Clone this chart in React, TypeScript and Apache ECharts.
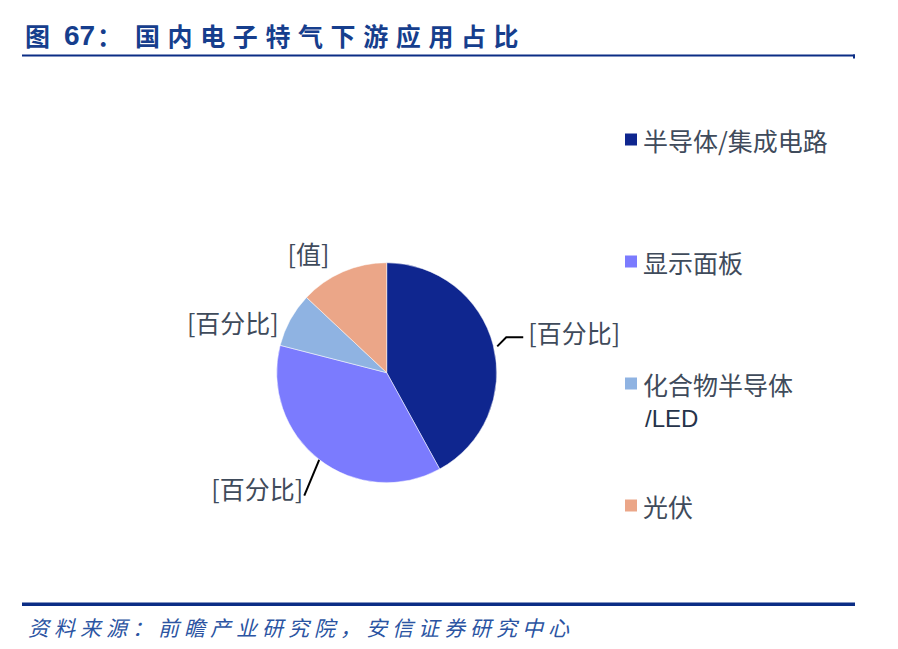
import React, { useEffect, useRef } from "react";
import * as echarts from "echarts";

const categories = ["半导体/集成电路", "显示面板", "化合物半导体/LED", "光伏"];
const values = [42, 37, 8, 13];
const labelTexts = ["[百分比]", "[百分比]", "[百分比]", "[值]"];
const colors = ["#0f268f", "#7b7bfe", "#8fb3e2", "#eba688"];
const legendTops = [122, 244, 366, 488];
const titleHead = "图";
const titleNum = "67";
const titleBody = "国内电子特气下游应用占比";
const sourceText = "资料来源：前瞻产业研究院，安信证券研究中心";

const CJK = '"Noto Sans CJK SC", "Noto Sans", sans-serif';
const TEXT_COLOR = "#3f4b5b";
const TITLE_COLOR = "#163e8d";
const LINE_COLOR = "#0b2d85";

export default function App() {
  const ref = useRef<HTMLDivElement>(null);
  useEffect(() => {
    if (!ref.current) return;
    const chart = echarts.init(ref.current, null, { renderer: "svg" });

    const graphics: any[] = [];
    // Title
    graphics.push({
      type: "text",
      x: 25,
      y: 35,
      style: { text: titleHead, font: `bold 25px ${CJK}`, fill: TITLE_COLOR, verticalAlign: "middle" },
    });
    graphics.push({
      type: "text",
      x: 64,
      y: 35,
      style: { text: titleNum, font: `bold 28px "Liberation Sans", Arial, sans-serif`, fill: TITLE_COLOR, verticalAlign: "middle" },
    });
    graphics.push({
      type: "text",
      x: 97,
      y: 35,
      style: { text: "：", font: `bold 25px ${CJK}`, fill: TITLE_COLOR, verticalAlign: "middle" },
    });
    titleBody.split("").forEach((c, i) => {
      graphics.push({
        type: "text",
        x: 135 + i * 32.6,
        y: 35,
        style: { text: c, font: `bold 25px ${CJK}`, fill: TITLE_COLOR, verticalAlign: "middle" },
      });
    });
    // Title underline
    graphics.push({ type: "rect", shape: { x: 22, y: 54.5, width: 833, height: 2 }, style: { fill: LINE_COLOR } });
    graphics.push({ type: "rect", shape: { x: 853, y: 54.5, width: 2, height: 4 }, style: { fill: LINE_COLOR } });
    // Bottom line
    graphics.push({ type: "rect", shape: { x: 22, y: 602.5, width: 833, height: 3.5 }, style: { fill: LINE_COLOR } });
    // Source
    sourceText.split("").forEach((c, i) => {
      graphics.push({
        type: "text",
        x: 28 + i * 26,
        y: 627,
        style: { text: c, font: `italic 21px ${CJK}`, fill: "#2b54a2", verticalAlign: "middle" },
      });
    });
    // second line of the third legend entry
    graphics.push({
      type: "text",
      x: 645,
      y: 418,
      style: { text: "/LED", font: `24px "Liberation Sans", Arial, sans-serif`, fill: "#26334a", verticalAlign: "middle" },
    });

    const option: any = {
      animation: false,
      backgroundColor: "#ffffff",
      color: colors,
      legend: categories.map((c, i) => ({
        data: [c],
        orient: "vertical",
        left: 618,
        top: legendTops[i],
        icon: "rect",
        itemWidth: 14,
        itemHeight: 14,
        selectedMode: false,
        formatter: (name: string) => (name === "化合物半导体/LED" ? "化合物半导体" : name),
        textStyle: { fontSize: 25, color: TEXT_COLOR, fontFamily: CJK },
      })),
      graphic: graphics,
      series: [
        {
          type: "pie",
          center: [386.7, 372.7],
          radius: 110,
          startAngle: 90,
          clockwise: true,
          avoidLabelOverlap: false,
          itemStyle: { borderColor: "#ffffff", borderWidth: 0.5 },
          label: {
            show: true,
            position: "outside",
            formatter: (p: any) => labelTexts[p.dataIndex],
            fontSize: 25,
            fontFamily: CJK,
            color: TEXT_COLOR,
            distanceToLabelLine: 4,
          },
          labelLine: {
            show: true,
            length: 15,
            length2: 12,
            smooth: false,
            lineStyle: { color: "#000000", width: 2 },
          },
          labelLayout: (p: any) => {
            const pts = p.labelLinePoints;
            if (!pts) return {};
            const a = pts[0];
            if (p.dataIndex === 0) {
              const a2 = [a[0] + 4, a[1] + 1];
              const b = [a2[0] + 9, a2[1] - 9];
              const c = [b[0] + 17, b[1]];
              return { x: c[0] + 5, y: c[1] - 5, align: "left", verticalAlign: "middle", labelLinePoints: [a2, b, c] };
            }
            if (p.dataIndex === 1) {
              const b = [a[0] - 15, a[1] + 36];
              return { x: b[0] - 1, y: b[1] - 8, align: "right", verticalAlign: "middle", labelLinePoints: [a, b, b] };
            }
            if (p.dataIndex === 2) return { dy: 4 };
            if (p.dataIndex === 3) return { dy: -6 };
            return {};
          },
          emphasis: { disabled: true },
          data: categories.map((name, i) => {
            const item: any = { name, value: values[i] };
            if (i === 2) item.labelLine = { show: false, length: 4, length2: 4 };
            if (i === 3) item.labelLine = { show: false, length: 14, length2: 4 };
            return item;
          }),
        },
      ],
    };
    chart.setOption(option);
    return () => chart.dispose();
  }, []);
  return (
    <div
      ref={ref}
      style={{ position: "fixed", left: 0, top: 0, width: 898, height: 649, background: "#fff" }}
    />
  );
}
